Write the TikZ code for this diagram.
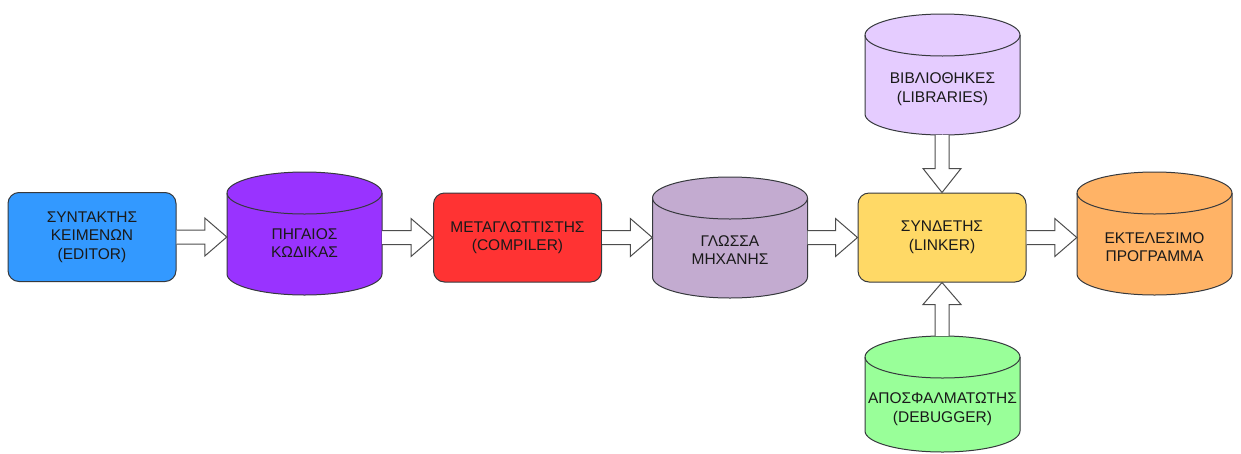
\documentclass[tikz,border=0pt]{standalone}
\usepackage{fontspec}
\setmainfont{Liberation Sans}
\usetikzlibrary{calc}

\definecolor{editorblue}{HTML}{3399FF}
\definecolor{srcpurple}{HTML}{9933FF}
\definecolor{compred}{HTML}{FF3333}
\definecolor{machlav}{HTML}{C3ABD0}
\definecolor{linkyellow}{HTML}{FFD966}
\definecolor{exeorange}{HTML}{FFB366}
\definecolor{liblav}{HTML}{E5CCFF}
\definecolor{dbggreen}{HTML}{99FF99}
\definecolor{edge}{HTML}{36393D}
\definecolor{arrowgray}{HTML}{4D4D4D}
\definecolor{ink}{HTML}{1A1A1A}

\tikzset{
  lbl/.style={text=ink, align=center, font=\fontsize{15.5}{18.5}\selectfont},
  box/.style={lbl, draw=edge, line width=1pt, rounded corners=11pt,
    minimum width=168pt, minimum height=89pt, inner sep=0pt},
  drumline/.style={draw=edge, line width=1pt},
  drumframe/.style={minimum width=155pt, inner sep=0pt},
  fatarrow/.style={draw=arrowgray, fill=white, line width=1pt, line join=miter},
}

% storage drum: name, centre x, top y, bottom y, fill, label, label centre y
\newcommand\drum[7]{%
  \filldraw[drumline, fill=#5]
    (#2-77.5,-#3-21) -- (#2-77.5,-#4+21)
    arc[start angle=180, end angle=360, x radius=77.5pt, y radius=21pt]
    -- (#2+77.5,-#3-21)
    arc[start angle=0, end angle=180, x radius=77.5pt, y radius=21pt] -- cycle;
  \draw[drumline] (#2-77.5,-#3-21)
    arc[start angle=180, end angle=360, x radius=77.5pt, y radius=21pt];
  \node[drumframe, minimum height={#4-#3}] (#1) at (#2,{-(#3+#4)/2}) {};
  \node[lbl, inner sep=0pt] (#1-label) at (#2,-#7) {#6};
}

% hollow block arrow from the east side of #1 to the west side of #2, at the height of #3
\newcommand\harrow[3]{%
  \draw[fatarrow] let \p1=(#1.east), \p2=(#2.west), \p3=(#3.center) in
    (\x1,\y3+7pt) -- (\x2-22pt,\y3+7pt) -- (\x2-22pt,\y3+19pt) -- (\x2,\y3)
    -- (\x2-22pt,\y3-19pt) -- (\x2-22pt,\y3-7pt) -- (\x1,\y3-7pt);
}

\begin{document}
\begin{tikzpicture}[x=1pt, y=1pt]
  \useasboundingbox (0,0) rectangle (1241,-453);

  % processing steps
  \node[box, fill=editorblue] (editor) at (92,-237) {ΣΥΝΤΑΚΤΗΣ\\ΚΕΙΜΕΝΩΝ\\(EDITOR)};
  \node[box, fill=compred] (compiler) at (517.5,-237.5) {ΜΕΤΑΓΛΩΤΤΙΣΤΗΣ\\(COMPILER)};
  \node[box, fill=linkyellow] (linker) at (942,-237.5) {ΣΥΝΔΕΤΗΣ\\(LINKER)};

  % stored artefacts
  \drum{source}{304.5}{172}{295}{srcpurple}{ΠΗΓΑΙΟΣ\\ΚΩΔΙΚΑΣ}{243}
  \drum{machine}{730}{177}{298}{machlav}{ΓΛΩΣΣΑ\\ΜΗΧΑΝΗΣ}{250}
  \drum{program}{1154.5}{172}{295}{exeorange}{ΕΚΤΕΛΕΣΙΜΟ\\ΠΡΟΓΡΑΜΜΑ}{247}
  \drum{libs}{942.5}{14}{135}{liblav}{ΒΙΒΛΙΟΘΗΚΕΣ\\(LIBRARIES)}{89}
  \drum{debugger}{942.5}{336}{452}{dbggreen}{ΑΠΟΣΦΑΛΜΑΤΩΤΗΣ\\(DEBUGGER)}{409}

  % main flow
  \harrow{editor}{source}{editor}
  \harrow{source}{compiler}{compiler}
  \harrow{compiler}{machine}{compiler}
  \harrow{machine}{linker}{linker}
  \harrow{linker}{program}{linker}

  % libraries feed the linker from above
  \draw[fatarrow] let \p1=(libs.south), \p2=(linker.north) in
    (\x2-7pt,\y1) -- (\x2-7pt,\y2+24pt) -- (\x2-19pt,\y2+24pt) -- (\x2,\y2)
    -- (\x2+19pt,\y2+24pt) -- (\x2+7pt,\y2+24pt) -- (\x2+7pt,\y1);

  % debugger feeds the linker from below
  \draw[fatarrow] let \p1=(debugger.north), \p2=(linker.south) in
    (\x2-7pt,\y1) -- (\x2-7pt,\y2-22pt) -- (\x2-19pt,\y2-22pt) -- (\x2,\y2)
    -- (\x2+19pt,\y2-22pt) -- (\x2+7pt,\y2-22pt) -- (\x2+7pt,\y1);
\end{tikzpicture}
\end{document}
